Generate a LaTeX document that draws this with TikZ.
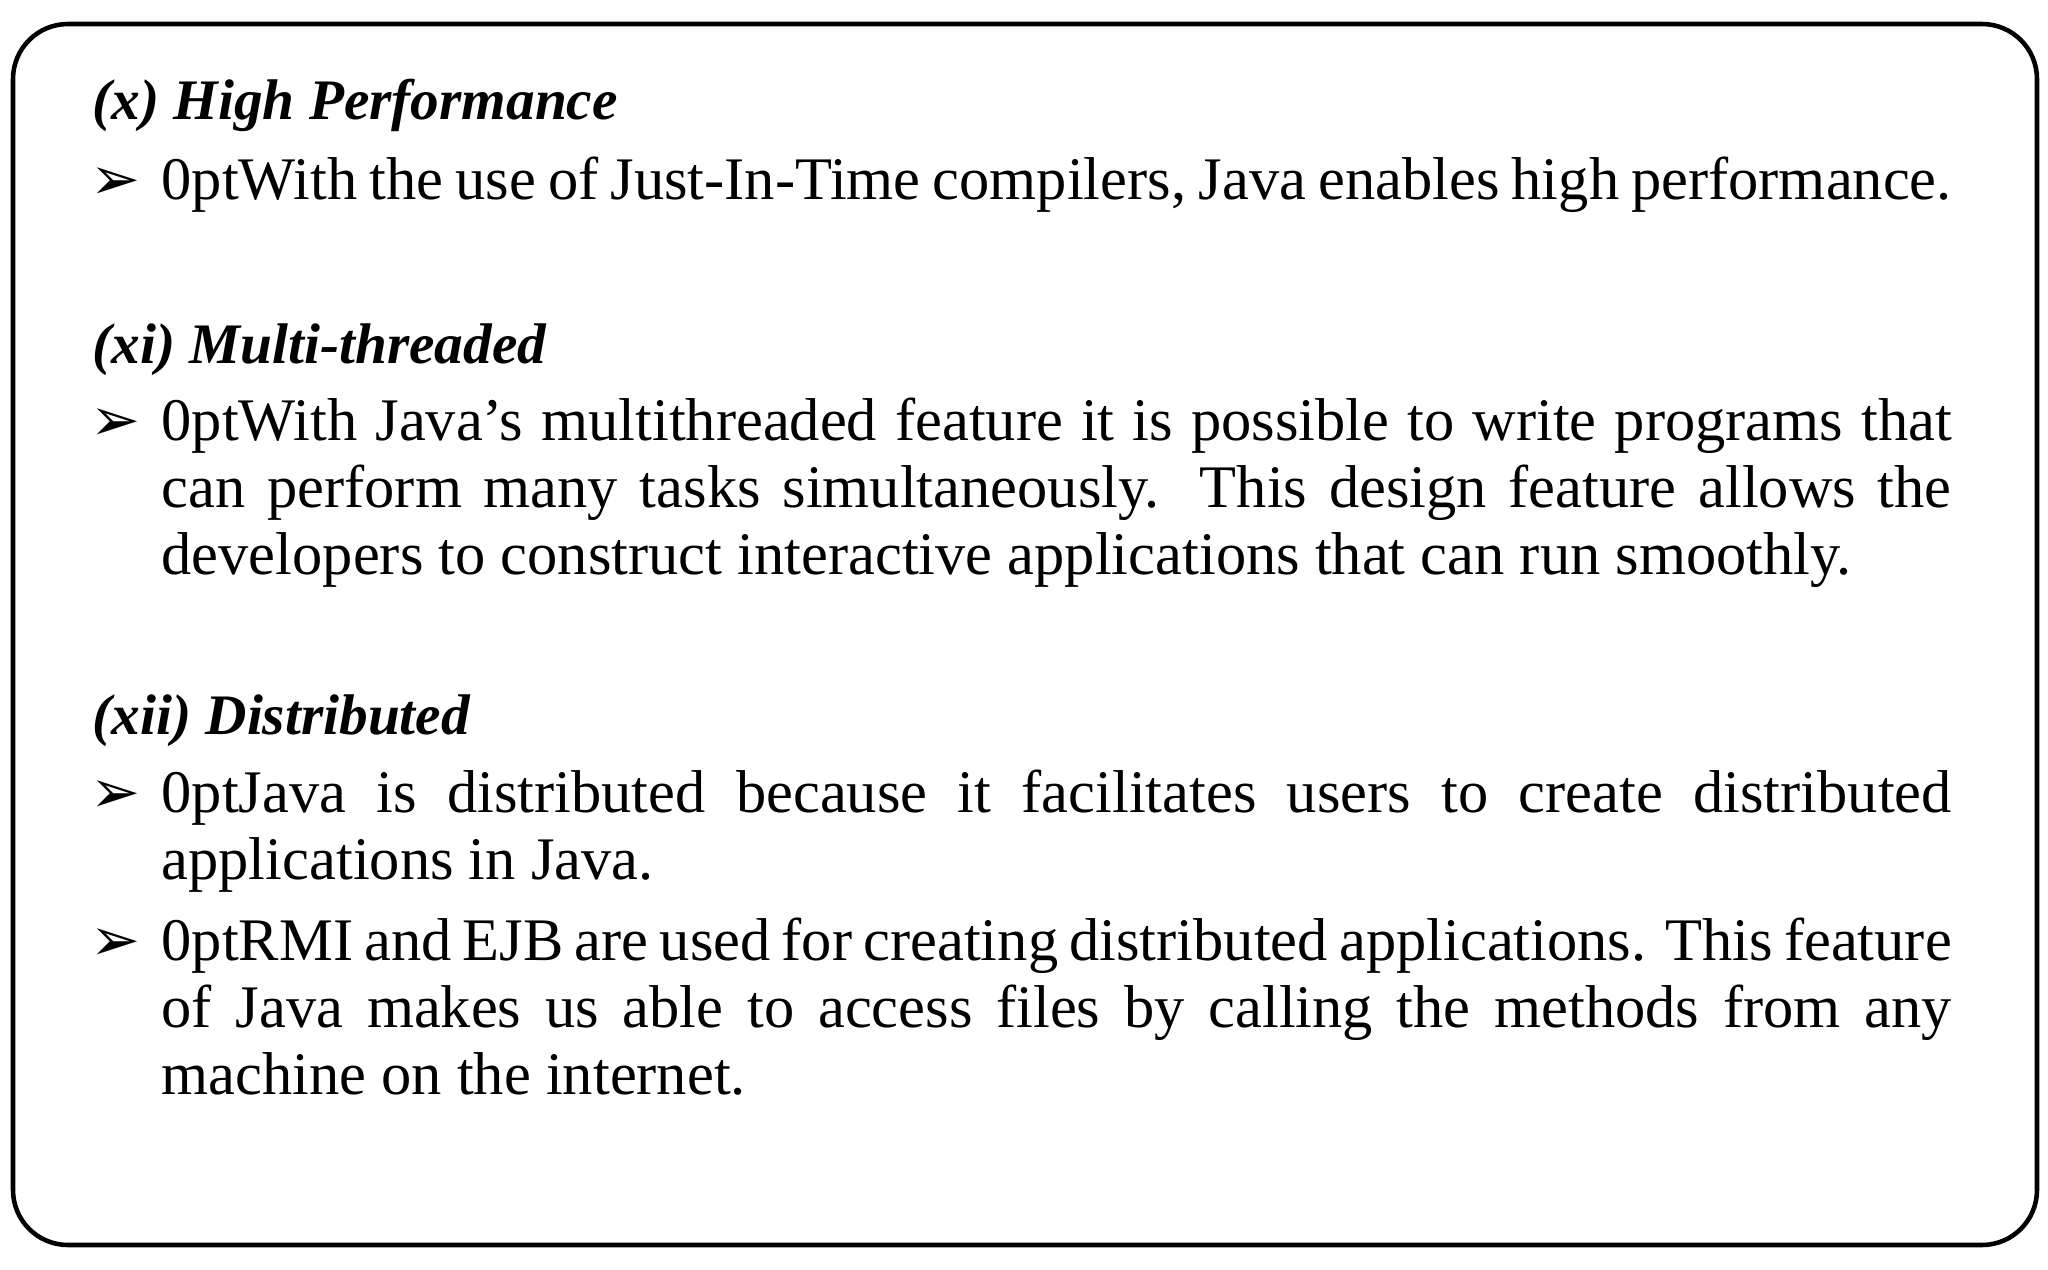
\documentclass[tikz,border=0pt]{standalone}
\usepackage{fontspec}
\setmainfont{Liberation Serif}
\newfontfamily\symf{DejaVu Sans}
\begin{document}
\begin{tikzpicture}[x=1cm,y=-1cm,
  hd/.style={anchor=base west,inner sep=0,font=\fontsize{16.3}{19}\selectfont\bfseries\itshape},
  bul/.style={anchor=base west,inner sep=0,font=\symf\fontsize{17}{19}\selectfont},
  para/.style={anchor=north west,inner sep=0,text width=17.9cm,align=justify,font=\fontsize{17.2}{19.1}\selectfont\hyphenpenalty=10000\exhyphenpenalty=10000}]
\useasboundingbox (0,0) rectangle (20.48,12.7);
\draw[line width=1.3pt,rounded corners=0.55cm] (0.13,0.24) rectangle (20.37,12.45);
\node[hd] (h1) at (0.92,1.2) {(x) High Performance};
\node[bul] (b1) at (0.9,1.99) {➢};
\node[para] (p1) at (1.61,1.52) {\strut With the use of Just-In-Time compilers, Java enables high performance.};
\node[hd] (h2) at (0.92,3.63) {(xi) Multi-threaded};
\node[bul] (b2) at (0.9,4.40) {➢};
\node[para] (p2) at (1.61,3.93) {\strut With Java's multithreaded feature it is possible to write programs that\linebreak can perform many tasks simultaneously. This design feature allows the\linebreak developers to construct interactive applications that can run smoothly.};
\node[hd] (h3) at (0.92,7.34) {(xii) Distributed};
\node[bul] (b3) at (0.9,8.12) {➢};
\node[para] (p3) at (1.61,7.65) {\strut Java is distributed because it facilitates users to create distributed\linebreak applications in Java.};
\node[bul] (b4) at (0.9,9.60) {➢};
\node[para] (p4) at (1.61,9.13) {\strut RMI and EJB are used for creating distributed applications. This feature\linebreak of Java makes us able to access files by calling the methods from any\linebreak machine on the internet.};
\end{tikzpicture}
\end{document}
